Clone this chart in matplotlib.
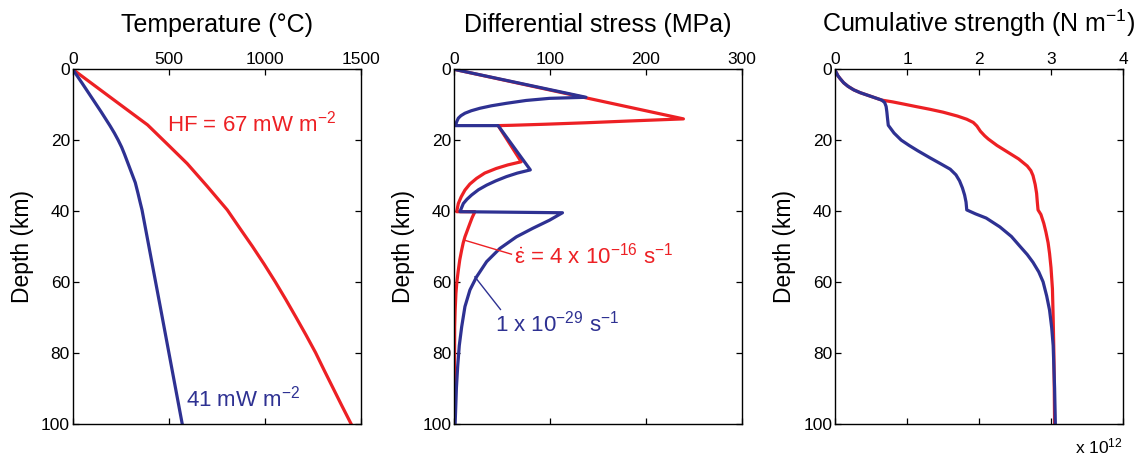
"""Geotherm, strength envelope and cumulative strength, three panels side by side."""

import matplotlib

matplotlib.use("Agg")
import matplotlib.pyplot as plt

plt.rcParams["font.family"] = ["Liberation Sans", "DejaVu Sans"]
plt.rcParams["mathtext.fontset"] = "custom"
plt.rcParams["mathtext.rm"] = "Liberation Sans"
plt.rcParams["mathtext.it"] = "Liberation Sans:italic"
plt.rcParams["mathtext.default"] = "regular"

RED = "#ED2024"
BLUE = "#2E3192"

DEPTH_TICKS = [0, 20, 40, 60, 80, 100]

# Temperature (deg C) vs depth (km)
TEMP_HOT_DEPTH = [0, 7.7, 15.7, 21.5, 26.6, 33, 39.7, 45, 50, 55, 60, 65, 70, 75,
                  80, 85, 90, 95, 100]
TEMP_HOT = [0, 191, 390, 500, 596, 700, 805, 872, 936, 997, 1055, 1110, 1163, 1215,
            1265, 1310, 1356, 1402, 1449]
TEMP_COLD_DEPTH = [0, 4, 8, 12, 16, 18, 20, 22, 24, 26, 29, 32, 35, 37.5, 39.7, 67, 100]
TEMP_COLD = [0, 50, 99, 148, 195, 217, 237, 255, 270, 284, 305, 326, 340, 351, 361, 456, 570]

# Differential stress (MPa) vs depth (km)
STRESS_HOT_DEPTH = [0, 14.0, 14.6, 15.1, 15.5, 15.8, 15.9, 26.1, 27.0, 28.0, 29.3, 30.8,
                    32.4, 34.1, 36, 37.9, 40.2, 40.2, 41.8, 43.5, 45.4, 47.3, 49, 51,
                    53.8, 56.7, 60, 63.3, 68, 72.7, 85, 100]
STRESS_HOT = [0, 239, 182, 137, 96, 61, 46, 70, 56, 44, 32, 23.5,
              16.5, 11.4, 7.5, 4.5, 2.8, 21.8, 19, 16.6, 14, 11.4, 9.6, 8,
              6, 4.5, 3, 2, 1.2, 0.7, 0.5, 0.4]
STRESS_COLD_DEPTH = [0, 7.9, 8.2, 8.8, 9.6, 10.3, 11, 11.7, 12.4, 13.1, 13.8, 14.8,
                     15.7, 15.9, 15.9, 28.4, 29.3, 30.3, 31.5, 32.7, 34, 35.5, 36.7, 37.9,
                     40.2, 40.5, 42.6, 44.9, 47.3, 50.6, 54.3, 58.6, 62.3, 67, 72.7,
                     78, 84, 90, 100]
STRESS_COLD = [0, 137.5, 99.5, 75, 54.6, 39, 27, 18, 11.4, 7.2, 4.5, 2.8,
               1.8, 1.2, 46, 79.5, 66, 54.6, 43.5, 34, 25.5, 18.3, 13.5, 9.7,
               6.2, 113, 99.5, 82, 65, 47.7, 34, 23.5, 16.6, 11.4, 8,
               5.5, 3.8, 2.5, 1.2]

# Cumulative strength (1e12 N/m) vs depth (km)
CUM_HOT_DEPTH = [0, 0.5, 1, 1.8, 2.6, 3.8, 4.8, 5.8, 6.6, 7.3, 8, 8.7, 9.2, 9.8, 10.5,
                 11.3, 12.1, 13.2, 14.1, 15, 16, 17.5, 18.8, 19.7, 21.5, 23.4, 25.3, 27.3,
                 28.6, 30, 32.5, 35, 37.5, 39.7, 41, 43.5, 46, 49, 52, 56, 62, 70, 80, 100]
CUM_HOT = [0, 0.005, 0.02, 0.04, 0.07, 0.12, 0.18, 0.26, 0.35, 0.45, 0.55, 0.65, 0.8, 0.95,
           1.12, 1.32, 1.5, 1.7, 1.83, 1.92, 1.97, 2.02, 2.08, 2.13, 2.25, 2.4, 2.55, 2.67,
           2.72, 2.75, 2.78, 2.8, 2.81, 2.82, 2.86, 2.9, 2.93, 2.96, 2.98, 3.0, 3.02, 3.03,
           3.04, 3.05]
CUM_COLD_DEPTH = [0, 0.5, 1, 1.8, 2.6, 3.8, 4.8, 5.8, 6.6, 7.3, 8, 8.7, 9.4, 10.5, 12, 14,
                  15.8, 18, 20, 21.5, 23, 25, 26.7, 28.2, 29.8, 31.5, 33.5, 35.5, 37.5, 39.7,
                  40.8, 42, 44.5, 47.2, 50, 52.3, 54.5, 57.2, 60, 64, 68, 73, 78, 84, 90, 100]
CUM_COLD = [0, 0.005, 0.02, 0.04, 0.07, 0.12, 0.18, 0.26, 0.35, 0.45, 0.55, 0.65, 0.69,
            0.71, 0.72, 0.73, 0.74, 0.82, 0.92, 1.03, 1.15, 1.32, 1.47, 1.6, 1.68, 1.73,
            1.77, 1.8, 1.82, 1.83, 1.95, 2.1, 2.29, 2.45, 2.57, 2.67, 2.75, 2.83, 2.89,
            2.94, 2.98, 3.01, 3.03, 3.04, 3.05, 3.06]

W, H = 1144, 458
AX_TOP, AX_BOT = 69.3, 423.5
PANEL_LEFTS = [72.7, 454, 835]
PANEL_W = 288


def _frame(ax, xmax, xticks, title):
    ax.set_xlim(0, xmax)
    ax.set_ylim(100, 0)
    ax.set_xticks(xticks)
    ax.set_yticks(DEPTH_TICKS)
    ax.xaxis.tick_top()
    ax.tick_params(axis="both", which="both", direction="in", length=4, width=0.9,
                   labelsize=12.5, top=True, bottom=True, left=True, right=True,
                   labeltop=True, labelbottom=False, pad=2)
    for sp in ax.spines.values():
        sp.set_linewidth(1.0)
    ax.set_ylabel("Depth (km)", fontsize=16.5, labelpad=5)
    ax.set_title(title, fontsize=18, pad=27)


def main():
    fig = plt.figure(figsize=(W / 100, H / 100), dpi=100)
    axes = []
    for left in PANEL_LEFTS:
        axes.append(fig.add_axes([left / W, 1 - AX_BOT / H, PANEL_W / W, (AX_BOT - AX_TOP) / H]))
    ax1, ax2, ax3 = axes
    lw = 2.3

    # temperature
    ax1.plot(TEMP_HOT, TEMP_HOT_DEPTH, color=RED, lw=lw)
    ax1.plot(TEMP_COLD, TEMP_COLD_DEPTH, color=BLUE, lw=lw)
    _frame(ax1, 1500, [0, 500, 1000, 1500], "Temperature (°C)")
    ax1.text(490, 17.6, r"HF = 67 mW m$^{-2}$", color=RED, fontsize=16, va="baseline")
    ax1.text(590, 95.3, r"41 mW m$^{-2}$", color=BLUE, fontsize=16, va="baseline")

    # differential stress
    ax2.plot(STRESS_HOT, STRESS_HOT_DEPTH, color=RED, lw=lw)
    ax2.plot(STRESS_COLD, STRESS_COLD_DEPTH, color=BLUE, lw=lw)
    _frame(ax2, 300, [0, 100, 200, 300], "Differential stress (MPa)")
    ax2.plot([10.4, 59.8], [48.2, 52.2], color=RED, lw=1)
    ax2.plot([21.8, 48.4], [58.6, 67.8], color=BLUE, lw=1)
    ax2.text(62, 54.8, r"$\dot{\varepsilon}$ = 4 x 10$^{-16}$ s$^{-1}$", color=RED,
             fontsize=16, va="baseline")
    ax2.text(42.5, 74.1, r"1 x 10$^{-29}$ s$^{-1}$", color=BLUE, fontsize=16, va="baseline")

    # cumulative strength
    ax3.plot(CUM_HOT, CUM_HOT_DEPTH, color=RED, lw=lw)
    ax3.plot(CUM_COLD, CUM_COLD_DEPTH, color=BLUE, lw=lw)
    _frame(ax3, 4, [0, 1, 2, 3, 4], r"Cumulative strength (N m$^{-1}$)")
    fig.text(1075 / W, 1 - 453 / H, r"x 10$^{12}$", fontsize=12.5, va="baseline")

    fig.savefig("out.png", dpi=100)


if __name__ == "__main__":
    main()
